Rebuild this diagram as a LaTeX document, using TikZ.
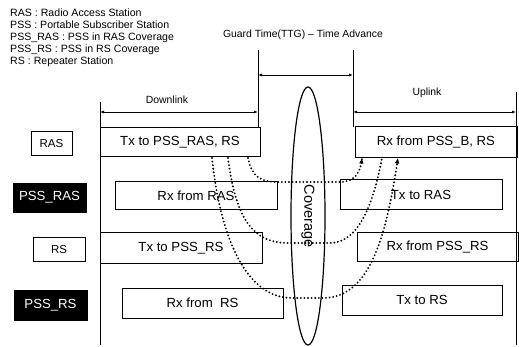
\documentclass[tikz,border=0pt]{standalone}
\usepackage{fontspec}
\setmainfont{Liberation Sans}
\usetikzlibrary{arrows.meta,shapes.geometric}
\begin{document}
\begin{tikzpicture}[x=1pt,y=-1pt,
  legend/.style={anchor=west, inner sep=0pt, font=\fontsize{10.6}{12}\selectfont},
  head/.style={inner sep=0pt, font=\fontsize{10.4}{12}\selectfont},
  slot/.style={draw, line width=1pt, inner sep=0pt, font=\fontsize{13.2}{15}\selectfont},
  lab/.style={draw, line width=1pt, inner sep=0pt, font=\fontsize{11.5}{13}\selectfont},
  blk/.style={draw, fill=black, text=white, inner sep=0pt, font=\fontsize{13.2}{15}\selectfont},
  rule/.style={line width=0.8pt},
  span/.style={line width=0.8pt, {Latex[length=4pt,width=3pt]}-{Latex[length=4pt,width=3pt]}},
  dots/.style={line width=2.1pt, dash pattern=on 0pt off 3.6pt, line cap=round},
  tip/.style={-{Latex[length=5.5pt,width=4.5pt]}}
]
\useasboundingbox (0,0) rectangle (519,347);

% legend
\node[legend] (l1) at (10,13) {RAS : Radio Access Station};
\node[legend] (l2) at (10,25) {PSS : Portable Subscriber Station};
\node[legend] (l3) at (10,37.5) {PSS\_RAS : PSS in RAS Coverage};
\node[legend] (l4) at (10,50) {PSS\_RS : PSS in RS Coverage};
\node[legend] (l5) at (10,62) {RS : Repeater Station};

% headings
\node[head] (gt) at (303,35) {Guard Time(TTG) -- Time Advance};
\node[head] (dl) at (167,100) {Downlink};
\node[head] (ul) at (427,93) {Uplink};

% frame lines
\coordinate (dlT) at (100,102); \coordinate (dlB) at (100,345);
\coordinate (gLT) at (258,50);  \coordinate (gLB) at (258,128);
\coordinate (gRT) at (353,50);  \coordinate (gRB) at (353,127);
\coordinate (ulT) at (516,92);  \coordinate (ulB) at (516,345);
\draw[rule] (dlT) -- (dlB);
\draw[rule] (gLT) -- (gLB);
\draw[rule] (gRT) -- (gRB);
\draw[rule] (ulT) -- (ulB);

\coordinate (g1) at (258,75);  \coordinate (g2) at (353,75);
\coordinate (d1) at (100,112); \coordinate (d2) at (258,112);
\coordinate (u1) at (353,112); \coordinate (u2) at (516,112);
\draw[span] (g1) -- (g2);
\draw[span] (d1) -- (d2);
\draw[span] (u1) -- (u2);

% coverage ellipse
\node[ellipse, draw, line width=1.2pt, rotate=-90, minimum width=258pt, minimum height=34pt,
      inner sep=0pt, font=\fontsize{14.5}{16}\selectfont] (cov) at (308,216) {Coverage};

% station labels
\node[lab, minimum width=41pt, minimum height=24pt] (lras) at (51.5,144) {RAS};
\node[blk, minimum width=73pt, minimum height=29pt] (lpssras) at (49.5,197.5) {PSS\_RAS};
\node[lab, minimum width=52pt, minimum height=24pt] (lrs) at (59,250) {RS};
\node[blk, minimum width=73pt, minimum height=30pt] (lpssrs) at (50.5,305) {PSS\_RS};

% slots
\node[slot, minimum width=160pt, minimum height=29pt] (txras) at (180,142.5) {Tx to PSS\_RAS, RS};
\node[slot, minimum width=162pt, minimum height=31pt] (rxpssb) at (436,142.5) {Rx from PSS\_B, RS};
\node[slot, minimum width=162pt, minimum height=28pt] (rxras) at (196,196) {Rx from RAS};
\node[slot, minimum width=162pt, minimum height=30pt] (txtoras) at (421,195) {Tx to RAS};
\node[slot, minimum width=162pt, minimum height=31pt] (txpssrs) at (181,248.5) {Tx to PSS\_RS};
\node[slot, minimum width=161pt, minimum height=29pt] (rxpssrs) at (437.5,247.5) {Rx from PSS\_RS};
\node[slot, minimum width=161pt, minimum height=30pt] (rxrs) at (202.5,303) {Rx from \ RS};
\node[slot, minimum width=160pt, minimum height=30pt] (txrs) at (422,300) {Tx to RS};

% dotted propagation curves
\coordinate (c0) at (248,158); \coordinate (c1) at (278,182);
\coordinate (c2) at (340,182); \coordinate (c3) at (362,158);
\draw[dots] (c0) .. controls (252,178) and (262,182) .. (c1) -- (c2)
  .. controls (355,182) and (361,172) .. (c3);
\draw[tip, line width=0.8pt] (361.3,164) -- (c3);

\coordinate (b0) at (228,158); \coordinate (b1) at (288,243);
\coordinate (b2) at (330,243); \coordinate (b3) at (382,158);
\draw[dots] (b0) .. controls (236,222) and (255,243) .. (b1) -- (b2)
  .. controls (360,243) and (374,200) .. (b3);

\coordinate (a0) at (212,158); \coordinate (a1) at (292,298);
\coordinate (a2) at (323,298); \coordinate (a3) at (398,158);
\draw[dots] (a0) .. controls (220,235) and (245,298) .. (a1) -- (a2)
  .. controls (372,298) and (387,230) .. (a3);
\draw[tip, line width=0.8pt] (397,164) -- (a3);
\end{tikzpicture}
\end{document}
